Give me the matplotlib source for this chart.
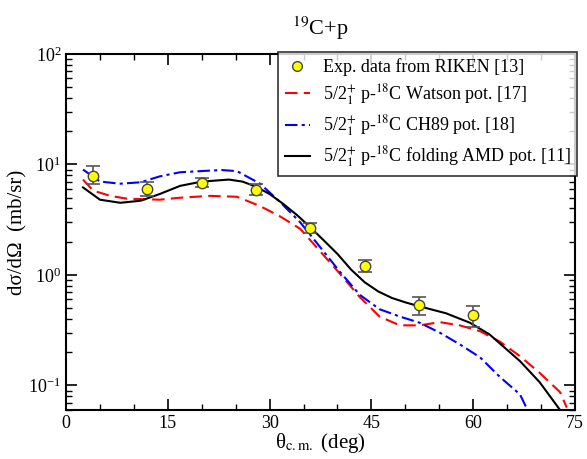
import matplotlib
matplotlib.use("Agg")
import matplotlib.pyplot as plt
from matplotlib.lines import Line2D
from matplotlib.ticker import LogLocator, MultipleLocator, NullFormatter

plt.rcParams['font.family'] = ['Liberation Serif', 'DejaVu Serif']
plt.rcParams['mathtext.fontset'] = 'stix'

# экспериментальные точки
theta_exp = [4, 12, 20, 28, 36, 44, 52, 60]
sig_exp = [7.9, 6.0, 6.8, 5.9, 2.65, 1.2, 0.54, 0.43]
err_up = [9.6, 6.9, 7.6, 6.6, 2.97, 1.37, 0.63, 0.52]
err_lo = [6.6, 5.2, 6.2, 5.3, 2.41, 1.06, 0.43, 0.34]

# Watson
theta_red = [2.5, 4, 6.5, 9, 13.8, 16.8, 21.2, 25.2, 28.6, 31.5, 34.5, 37.4, 40.4, 43.3, 46.2,
             49.2, 52.1, 55.1, 58, 61, 63.9, 66.9, 69.8, 72.8, 73.8]
sig_red = [7.3, 5.8, 5.2, 4.9, 4.8, 5.0, 5.2, 5.1, 4.2, 3.4, 2.62, 1.65, 1.02, 0.63, 0.42,
           0.35, 0.35, 0.374, 0.35, 0.31, 0.25, 0.184, 0.13, 0.087, 0.063]

# CH89
theta_blue = [2.5, 5, 8, 11, 13.8, 16.8, 21.2, 23, 25.2, 28.6, 31.5, 34.5, 37.4, 40.4, 43.3,
              46.2, 49.2, 52.1, 55.1, 58, 61, 63.9, 66.9, 68]
sig_blue = [9.0, 7.0, 6.7, 6.9, 7.8, 8.5, 8.8, 8.9, 8.7, 6.7, 4.6, 3.0, 1.8, 1.06, 0.66,
            0.49, 0.42, 0.37, 0.30, 0.236, 0.18, 0.12, 0.083, 0.06]

# folding AMD
theta_blk = [2.5, 5, 8, 11, 13.8, 16.8, 20, 24, 26, 28, 30, 32, 34, 36, 38, 40, 42,
             44, 46, 48, 50, 52.1, 56, 59.5, 62.4, 66.9, 69.8, 72.8]
sig_blk = [6.2, 4.8, 4.5, 4.7, 5.4, 6.4, 7.0, 7.3, 7.0, 6.3, 5.4, 4.4, 3.5, 2.7, 2.05, 1.55, 1.12,
           0.86, 0.71, 0.62, 0.565, 0.52, 0.45, 0.37, 0.29, 0.166, 0.107, 0.06]

fig = plt.figure(figsize=(5.87, 4.59), dpi=100)
ax = fig.add_axes([0.1125, 0.1068, 0.867, 0.7756])

yerr = [[s - l for s, l in zip(sig_exp, err_lo)], [u - s for s, u in zip(sig_exp, err_up)]]
ax.errorbar(theta_exp, sig_exp, yerr=yerr, fmt='o', color='#555555', ecolor='#555555',
            mfc='yellow', mec='#444444', ms=7.5, capsize=5, elinewidth=1.2, capthick=1.2,
            zorder=5)
l_red, = ax.plot(theta_red, sig_red, color='red', ls=(0, (6, 3)), lw=1.5,
                 label='5/2$^{+}_{1}$ p-$^{18}$C Watson pot. [17]')
l_blue, = ax.plot(theta_blue, sig_blue, color='blue', ls=(0, (6, 2, 1.5, 2)), lw=1.5,
                  label='5/2$^{+}_{1}$ p-$^{18}$C CH89 pot. [18]')
l_blk, = ax.plot(theta_blk, sig_blk, color='black', lw=1.5,
                 label='5/2$^{+}_{1}$ p-$^{18}$C folding AMD pot. [11]')
h_exp = Line2D([], [], ls='none', marker='o', mfc='yellow', mec='#444444', ms=7,
               label='Exp. data from RIKEN [13]')

ax.set_yscale('log')
ax.set_xlim(0, 75)
ax.set_ylim(0.06, 100)
ax.xaxis.set_major_locator(MultipleLocator(15))
ax.xaxis.set_minor_locator(MultipleLocator(5))
ax.yaxis.set_major_locator(LogLocator(base=10, numticks=10))
ax.yaxis.set_minor_locator(LogLocator(base=10, subs=range(2, 10), numticks=20))
ax.yaxis.set_minor_formatter(NullFormatter())
ax.tick_params(which='both', direction='in', top=True, right=True, labelsize=13)
ax.tick_params(which='major', length=8, width=1.2)
ax.tick_params(which='minor', length=4, width=1)
for s in ax.spines.values():
    s.set_linewidth(1.5)

ax.set_xlabel('θ$_{\\mathrm{c.m.}}$ (deg)', fontsize=15)
ax.xaxis.set_label_coords(0.5, -0.06)
ax.set_ylabel('dσ/dΩ  (mb/sr)', fontsize=15)
ax.yaxis.set_label_coords(-0.075, 0.5)
ax.set_title('$^{19}$C+p', fontsize=16, pad=14)

leg = ax.legend(handles=[h_exp, l_red, l_blue, l_blk], loc='upper right',
                bbox_to_anchor=(1.004, 1.006), fontsize=13, frameon=True, fancybox=False,
                edgecolor='black', handlelength=1.4, borderaxespad=0.0,
                labelspacing=0.35, borderpad=0.35, handletextpad=0.7)
leg.get_frame().set_linewidth(1.2)

fig.savefig('out.png', dpi=100)
